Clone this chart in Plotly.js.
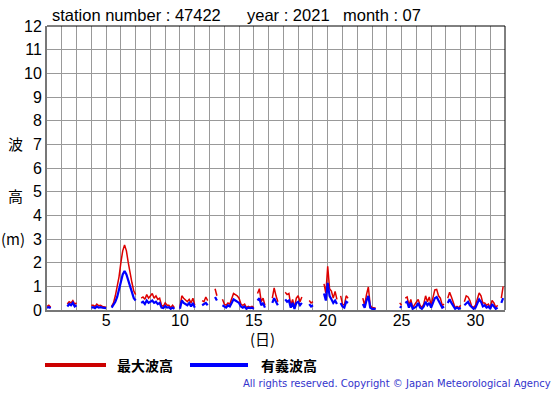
<!DOCTYPE html>
<html>
<head>
<meta charset="utf-8">
<script src="https://cdn.plot.ly/plotly-3.0.1.min.js"></script>
<style>
html,body{margin:0;padding:0;background:#fff;}
#chart{width:555px;height:395px;}
</style>
</head>
<body>
<div id="chart"></div>
<script>
// Time steps: 3-hourly samples per day (slot 0..7 => 0h,3h,...,21h)
const days = [1,2,3,4,5,6,7,8,9,10,11,12,13,14,15,16,17,18,19,20,21,22,23,24,25,26,27,28,29,30,31];
const slotsPerDay = 8;

// 有義波高 (significant wave height, m), 8 values per day
const sigWave = [
  0.10,0.12,0.08,null,null,null,null,0.35,   // 1
  null,null,null,0.15,0.25,0.20,0.30,0.15,   // 2
  0.20,null,null,0.10,null,null,null,null,   // 3
  0.10,0.12,0.08,0.15,0.10,0.12,0.10,0.08,   // 4
  0.08,null,null,0.10,0.20,0.35,0.55,0.85,   // 5
  1.20,1.50,1.65,1.50,1.25,1.00,0.75,0.50,   // 6
  0.40,null,null,0.30,0.35,0.25,0.40,0.30,   // 7
  0.35,0.40,0.30,0.35,0.25,0.30,0.10,0.08,   // 8
  0.17,0.10,0.12,0.05,0.10,0.05,null,null,   // 9
  0.05,0.40,0.30,0.25,0.20,0.30,0.15,0.30,   // 10
  0.10,null,0.05,null,0.20,0.25,0.30,0.20,   // 11
  null,null,null,0.55,0.40,null,null,0.20,   // 12
  0.15,0.10,0.20,0.15,0.30,0.45,0.40,0.35,   // 13
  0.30,0.15,0.10,0.15,0.05,0.10,0.08,0.10,   // 14
  0.05,null,0.40,0.50,0.20,0.30,0.10,null,   // 15
  0.05,null,0.30,0.50,0.35,0.20,null,null,   // 16
  null,0.45,0.35,0.40,0.10,0.30,0.05,0.30,   // 17
  0.35,0.20,0.30,null,0.15,null,0.25,0.15,   // 18
  0.20,null,null,null,null,null,0.70,0.40,   // 19
  1.15,0.60,0.45,0.30,0.40,0.25,null,0.30,   // 20
  0.15,0.10,0.35,0.30,null,null,0.40,null,   // 21
  null,0.05,null,0.25,0.10,0.40,0.60,0.10,   // 22
  0.05,0.05,0.03,null,null,0.25,null,null,   // 23
  null,null,null,0.30,null,null,null,0.15,   // 24
  0.10,null,0.30,0.35,0.10,0.30,0.05,0.10,   // 25
  0.15,0.30,0.10,0.05,0.15,0.35,0.20,0.30,   // 26
  0.10,0.30,0.50,0.55,0.40,0.30,0.10,0.15,   // 27
  null,0.30,0.45,0.30,0.15,0.05,0.10,0.05,   // 28
  0.10,null,0.20,0.30,0.35,0.20,0.10,0.05,   // 29
  0.10,0.30,0.45,0.35,0.15,0.20,0.10,0.15,   // 30
  0.05,0.25,0.15,0.05,0.10,null,0.30,0.50    // 31
];

// 最大波高 (maximum wave height, m), 8 values per day
const maxWave = [
  0.15,0.20,0.12,null,null,null,null,0.55,   // 1
  null,null,null,0.25,0.35,0.30,0.40,0.25,   // 2
  0.30,null,null,0.15,null,null,null,null,   // 3
  0.20,0.20,0.15,0.25,0.18,0.20,0.15,0.12,   // 4
  0.12,null,null,0.15,0.30,0.60,0.95,1.40,   // 5
  2.00,2.50,2.75,2.50,2.00,1.50,1.15,0.80,   // 6
  0.65,null,null,0.50,0.55,0.45,0.65,0.50,   // 7
  0.60,0.70,0.50,0.60,0.45,0.50,0.20,0.15,   // 8
  0.30,0.20,0.20,0.10,0.20,0.10,null,null,   // 9
  0.10,0.60,0.50,0.40,0.35,0.45,0.30,0.50,   // 10
  0.20,null,0.10,null,0.40,0.35,0.55,0.40,   // 11
  null,null,null,0.90,0.60,null,null,0.45,   // 12
  0.25,0.20,0.30,0.25,0.50,0.70,0.65,0.60,   // 13
  0.50,0.25,0.20,0.25,0.10,0.15,0.12,0.15,   // 14
  0.10,null,0.70,0.90,0.35,0.50,0.20,null,   // 15
  0.08,null,0.50,0.93,0.60,0.35,null,null,   // 16
  null,0.75,0.65,0.70,0.20,0.45,0.10,0.50,   // 17
  0.60,0.35,0.55,null,0.30,null,0.40,0.30,   // 18
  0.35,null,null,null,null,null,1.10,0.70,   // 19
  1.85,0.90,0.80,0.50,0.78,0.45,null,0.60,   // 20
  0.25,0.20,0.60,0.50,null,null,0.60,null,   // 21
  null,0.10,null,0.50,0.20,0.65,0.97,0.20,   // 22
  0.10,0.10,0.08,null,null,0.45,null,null,   // 23
  null,null,null,0.50,null,null,null,0.30,   // 24
  0.20,null,0.50,0.55,0.20,0.45,0.10,0.20,   // 25
  0.30,0.45,0.20,0.10,0.25,0.60,0.35,0.55,   // 26
  0.20,0.50,0.85,0.87,0.60,0.50,0.20,0.25,   // 27
  null,0.50,0.75,0.55,0.30,0.10,0.15,0.10,   // 28
  0.20,null,0.35,0.60,0.55,0.40,0.15,0.10,   // 29
  0.20,0.50,0.72,0.60,0.30,0.30,0.20,0.25,   // 30
  0.10,0.40,0.30,0.10,0.20,null,0.50,1.00    // 31
];

// tick labels
const yTicks = [0,1,2,3,4,5,6,7,8,9,10,11,12];
const xTickVals = [1,2,3,4,5,6,7,8,9,10,11,12,13,14,15,16,17,18,19,20,21,22,23,24,25,26,27,28,29,30,31,32];
const xTickText = ['','','','','5','','','','','10','','','','','15','','','','','20','','','','','25','','','','','30','',''];

const titleParts = ['station number : 47422', 'year : 2021', 'month : 07'];
const legendNames = ['最大波高','有義波高'];

// time axis (day + fraction of day) for each sample
const t = [];
days.forEach(d => { for (let k = 0; k < slotsPerDay; k++) t.push(d + k / slotsPerDay); });

const RED = '#dd0000', BLUE = '#0000ff';

const traces = [
  {x: t, y: maxWave, type: 'scatter', mode: 'lines', connectgaps: false,
   line: {color: RED, width: 1.5}, name: legendNames[0], showlegend: false, hoverinfo: 'none'},
  {x: t, y: sigWave, type: 'scatter', mode: 'lines', connectgaps: false,
   line: {color: BLUE, width: 2.2}, name: legendNames[1], showlegend: false, hoverinfo: 'none'}
];

const FONT = 'Liberation Sans, Arial, sans-serif';
const CJK = 'Noto Sans CJK JP, sans-serif';
const W = 458, H = 284, L = 47, T = 26;
const px = v => (v - L) / W;          // page x -> paper
const py = v => (T + H - v) / H;      // page y -> paper

const layout = {
  width: 555, height: 395,
  margin: {l: 47, r: 50, t: 26, b: 85, pad: 0},
  paper_bgcolor: '#ffffff', plot_bgcolor: '#ffffff',
  showlegend: false,
  font: {family: FONT, color: '#000', size: 16},
  xaxis: {
    range: [1, 32], tickmode: 'array', tickvals: xTickVals, ticktext: xTickText,
    showgrid: true, gridcolor: '#999999', gridwidth: 1,
    zeroline: false, showline: true, linecolor: '#777777', linewidth: 2,
    ticks: '', ticklabelstandoff: -5, tickfont: {family: FONT, size: 16, color: '#000'}
  },
  yaxis: {
    range: [0, 12], tickmode: 'array', tickvals: yTicks,
    showgrid: true, gridcolor: '#999999', gridwidth: 1,
    zeroline: false, showline: true, linecolor: '#777777', linewidth: 2,
    ticks: '', ticklen: 0, tickfont: {family: FONT, size: 16, color: '#000'}
  },
  shapes: [
    {type: 'line', xref: 'paper', yref: 'paper', x0: 0, x1: 1, y0: 1, y1: 1, line: {color: '#000', width: 1}},
    {type: 'line', xref: 'paper', yref: 'paper', x0: 1, x1: 1, y0: 0, y1: 1, line: {color: '#000', width: 1}},
    // legend swatches
    {type: 'line', xref: 'paper', yref: 'paper', x0: px(45), x1: px(106), y0: py(365), y1: py(365), line: {color: '#cc0000', width: 4}},
    {type: 'line', xref: 'paper', yref: 'paper', x0: px(190), x1: px(248), y0: py(365), y1: py(365), line: {color: BLUE, width: 4}}
  ],
  annotations: [
    {text: titleParts[0], xref: 'paper', yref: 'paper', x: px(50), y: py(15), xanchor: 'left', yanchor: 'middle',
     showarrow: false, font: {family: FONT, size: 16.5, color: '#000'}},
    {text: titleParts[1], xref: 'paper', yref: 'paper', x: px(245), y: py(15), xanchor: 'left', yanchor: 'middle',
     showarrow: false, font: {family: FONT, size: 16.5, color: '#000'}},
    {text: titleParts[2], xref: 'paper', yref: 'paper', x: px(341), y: py(15), xanchor: 'left', yanchor: 'middle',
     showarrow: false, font: {family: FONT, size: 16.5, color: '#000'}},
    {text: '波', xref: 'paper', yref: 'paper', x: px(15), y: py(143), xanchor: 'center', yanchor: 'middle',
     showarrow: false, font: {family: CJK, size: 15, color: '#000'}},
    {text: '高', xref: 'paper', yref: 'paper', x: px(15), y: py(195), xanchor: 'center', yanchor: 'middle',
     showarrow: false, font: {family: CJK, size: 15, color: '#000'}},
    {text: '(m)', xref: 'paper', yref: 'paper', x: px(13), y: py(238), xanchor: 'center', yanchor: 'middle',
     showarrow: false, font: {family: CJK, size: 15, color: '#000'}},
    {text: '(日)', xref: 'paper', yref: 'paper', x: px(262), y: py(338), xanchor: 'center', yanchor: 'middle',
     showarrow: false, font: {family: CJK, size: 15, color: '#000'}},
    {text: '<b>' + legendNames[0] + '</b>', xref: 'paper', yref: 'paper', x: px(115), y: py(365), xanchor: 'left', yanchor: 'middle',
     showarrow: false, font: {family: CJK, size: 14, color: '#000'}},
    {text: '<b>' + legendNames[1] + '</b>', xref: 'paper', yref: 'paper', x: px(259), y: py(365), xanchor: 'left', yanchor: 'middle',
     showarrow: false, font: {family: CJK, size: 14, color: '#000'}},
    {text: 'All rights reserved. Copyright © Japan Meteorological Agency', xref: 'paper', yref: 'paper',
     x: px(553), y: py(384), xanchor: 'right', yanchor: 'middle',
     showarrow: false, font: {family: 'DejaVu Sans, sans-serif', size: 10, color: '#3333cc'}}
  ]
};

Plotly.newPlot('chart', traces, layout, {staticPlot: true, displayModeBar: false});
</script>
</body>
</html>
